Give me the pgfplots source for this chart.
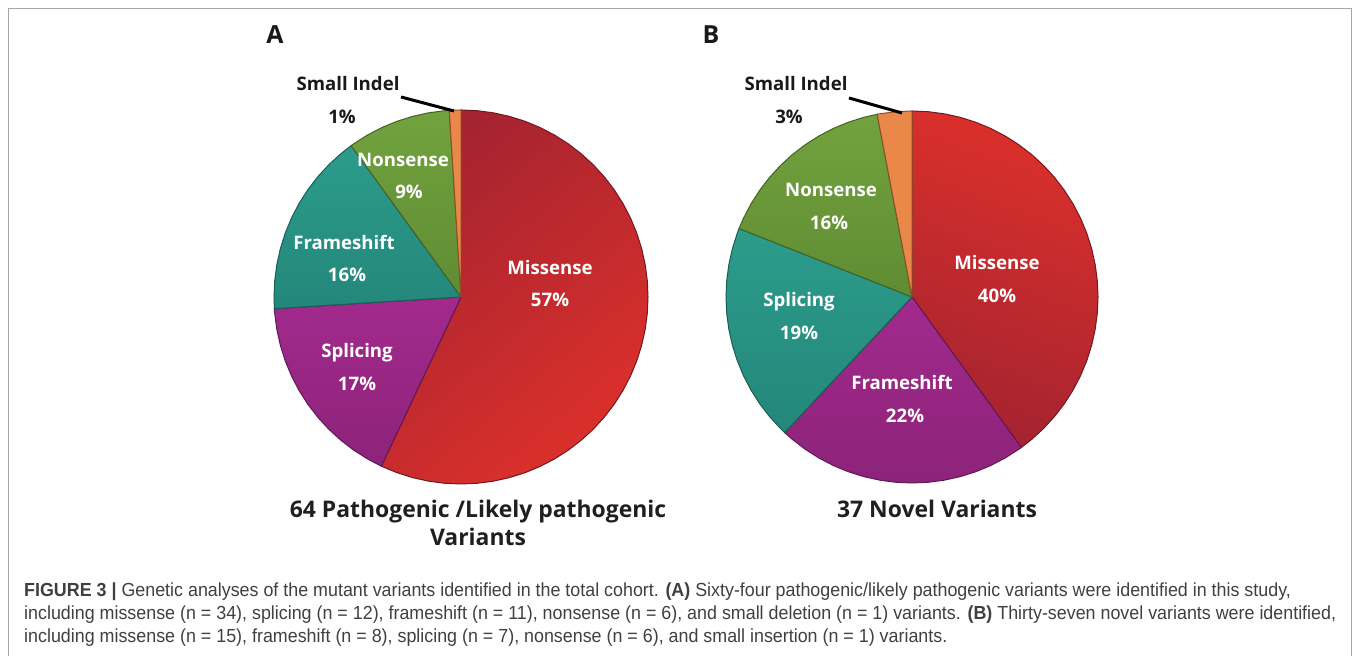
\documentclass[border=0pt]{standalone}
\usepackage{pgfplots}
\pgfplotsset{compat=1.18}
\usepgfplotslibrary{polar}
\usepackage{fontspec}
\setmainfont{Open Sans}
\newfontfamily\capfont[FakeStretch=0.944]{Liberation Sans}
\definecolor{redD}{HTML}{A52330}
\definecolor{redB}{HTML}{DC302B}
\definecolor{purp}{HTML}{A22A8D}
\definecolor{purpD}{HTML}{8C2379}
\definecolor{teal}{HTML}{2C9C8B}
\definecolor{tealD}{HTML}{23877A}
\definecolor{grn}{HTML}{72A23E}
\definecolor{grnD}{HTML}{5F8C33}
\definecolor{orng}{HTML}{EA884A}
\definecolor{orngD}{HTML}{D06F35}
\definecolor{capgray}{HTML}{404040}
\begin{document}
\begin{tikzpicture}[x=1bp,y=1bp,
  lab/.style={font=\fontsize{18.7}{21}\selectfont\bfseries, text=white, inner sep=0pt, text height=13.4bp, text depth=0pt, anchor=center},
  blab/.style={lab, text=black!90},
  ttl/.style={font=\fontsize{23}{26}\selectfont\bfseries, text=black!88, inner sep=0pt, text height=16.5bp, text depth=0pt, anchor=center}]
\path[use as bounding box] (0,0) rectangle (1355,656);
\draw[black!35, line width=1.8bp] (8.5,0) -- (8.5,647.5) -- (1351.5,647.5) -- (1351.5,0);

% ---------------- Pie A ----------------
\begin{axis}[at={(461bp,359bp)}, anchor=center, hide axis, scale only axis,
  width=374bp, height=374bp, xmin=-1, xmax=1, ymin=-1, ymax=1, clip=false]
% Missense 57%
\addplot[data cs=polar, draw=redD!70!black, line width=1bp, top color=redD, bottom color=redB, shading angle=40]
 coordinates {(0,0) (90,1) (85,1) (80,1) (75,1) (70,1) (65,1) (60,1) (55,1) (50,1) (45,1) (40,1) (35,1) (30,1) (25,1) (20,1) (15,1) (10,1) (5,1) (0,1) (-5,1) (-10,1) (-15,1) (-20,1) (-25,1) (-30,1) (-35,1) (-40,1) (-45,1) (-50,1) (-55,1) (-60,1) (-65,1) (-70,1) (-75,1) (-80,1) (-85,1) (-90,1) (-95,1) (-100,1) (-105,1) (-110,1) (-115,1) (-115.2,1) (0,0)};
% Splicing 17%
\addplot[data cs=polar, draw=purpD!70!black, line width=1bp, top color=purp, bottom color=purpD]
 coordinates {(0,0) (-115.2,1) (-120,1) (-125,1) (-130,1) (-135,1) (-140,1) (-145,1) (-150,1) (-155,1) (-160,1) (-165,1) (-170,1) (-175,1) (-176.4,1) (0,0)};
% Frameshift 16%
\addplot[data cs=polar, draw=tealD!70!black, line width=1bp, top color=teal, bottom color=tealD]
 coordinates {(0,0) (-176.4,1) (-180,1) (-185,1) (-190,1) (-195,1) (-200,1) (-205,1) (-210,1) (-215,1) (-220,1) (-225,1) (-230,1) (-234,1) (0,0)};
% Nonsense 9%
\addplot[data cs=polar, draw=grnD!70!black, line width=1bp, top color=grn, bottom color=grnD]
 coordinates {(0,0) (-234,1) (-235,1) (-240,1) (-245,1) (-250,1) (-255,1) (-260,1) (-265,1) (-266.4,1) (0,0)};
% Small Indel 1%
\addplot[data cs=polar, draw=orngD!70!black, line width=1bp, fill=orng]
 coordinates {(0,0) (-266.4,1) (-268,1) (-270,1) (0,0)};
\end{axis}

% ---------------- Pie B ----------------
\begin{axis}[at={(912bp,359bp)}, anchor=center, hide axis, scale only axis,
  width=372bp, height=372bp, xmin=-1, xmax=1, ymin=-1, ymax=1, clip=false]
% Missense 40%
\addplot[data cs=polar, draw=redD!70!black, line width=1bp, top color=redB, bottom color=redD, shading angle=-20]
 coordinates {(0,0) (90,1) (85,1) (80,1) (75,1) (70,1) (65,1) (60,1) (55,1) (50,1) (45,1) (40,1) (35,1) (30,1) (25,1) (20,1) (15,1) (10,1) (5,1) (0,1) (-5,1) (-10,1) (-15,1) (-20,1) (-25,1) (-30,1) (-35,1) (-40,1) (-45,1) (-50,1) (-54,1) (0,0)};
% Frameshift 22%
\addplot[data cs=polar, draw=purpD!70!black, line width=1bp, top color=purp, bottom color=purpD]
 coordinates {(0,0) (-54,1) (-55,1) (-60,1) (-65,1) (-70,1) (-75,1) (-80,1) (-85,1) (-90,1) (-95,1) (-100,1) (-105,1) (-110,1) (-115,1) (-120,1) (-125,1) (-130,1) (-133.2,1) (0,0)};
% Splicing 19%
\addplot[data cs=polar, draw=tealD!70!black, line width=1bp, top color=teal, bottom color=tealD]
 coordinates {(0,0) (-133.2,1) (-135,1) (-140,1) (-145,1) (-150,1) (-155,1) (-160,1) (-165,1) (-170,1) (-175,1) (-180,1) (-185,1) (-190,1) (-195,1) (-200,1) (-201.6,1) (0,0)};
% Nonsense 16%
\addplot[data cs=polar, draw=grnD!70!black, line width=1bp, top color=grn, bottom color=grnD]
 coordinates {(0,0) (-201.6,1) (-205,1) (-210,1) (-215,1) (-220,1) (-225,1) (-230,1) (-235,1) (-240,1) (-245,1) (-250,1) (-255,1) (-259.2,1) (0,0)};
% Small Indel 3%
\addplot[data cs=polar, draw=orngD!70!black, line width=1bp, fill=orng]
 coordinates {(0,0) (-259.2,1) (-260,1) (-265,1) (-270,1) (0,0)};
\end{axis}

% panel letters
\node[font=\fontsize{25}{28}\selectfont\bfseries, text=black!90, inner sep=0pt, text height=18bp, text depth=0pt] at (275,621) {A};
\node[font=\fontsize{25}{28}\selectfont\bfseries, text=black!90, inner sep=0pt, text height=18bp, text depth=0pt] at (711,621) {B};

% labels A
\node[lab] at (550,388) {Missense};
\node[lab] at (550,356.5) {57\%};
\node[lab] at (357,305) {Splicing};
\node[lab] at (357,272) {17\%};
\node[lab] at (344,413) {Frameshift};
\node[lab] at (347,381) {16\%};
\node[lab] at (403,496) {Nonsense};
\node[lab] at (409,464) {9\%};
\node[blab] at (348,572) {Small Indel};
\node[blab] at (342,539) {1\%};
\draw[black, line width=3bp] (401,559) -- (454,545);

% labels B
\node[lab] at (997,393) {Missense};
\node[lab] at (997,360) {40\%};
\node[lab] at (902,273) {Frameshift};
\node[lab] at (905,240) {22\%};
\node[lab] at (799,356) {Splicing};
\node[lab] at (799,323) {19\%};
\node[lab] at (831,466) {Nonsense};
\node[lab] at (829,433) {16\%};
\node[blab] at (796,572) {Small Indel};
\node[blab] at (789,539) {3\%};
\draw[black, line width=3bp] (849,558) -- (902,543);

% titles
\node[ttl] at (478,147) {64 Pathogenic /Likely pathogenic};
\node[ttl] at (478,119) {Variants};
\node[ttl] at (937,147) {37 Novel Variants};

% caption
\begin{scope}[every node/.style={anchor=base west, inner sep=0pt, text=capgray, font=\capfont\fontsize{19}{22}\selectfont}]
\node at (24,59) {\textbf{FIGURE 3 |} Genetic analyses of the mutant variants identified in the total cohort. \textbf{(A)} Sixty-four pathogenic/likely pathogenic variants were identified in this study,};
\node at (24,36) {including missense (n = 34), splicing (n = 12), frameshift (n = 11), nonsense (n = 6), and small deletion (n = 1) variants. \textbf{(B)} Thirty-seven novel variants were identified,};
\node at (24,13) {including missense (n = 15), frameshift (n = 8), splicing (n = 7), nonsense (n = 6), and small insertion (n = 1) variants.};
\end{scope}
\end{tikzpicture}
\end{document}
